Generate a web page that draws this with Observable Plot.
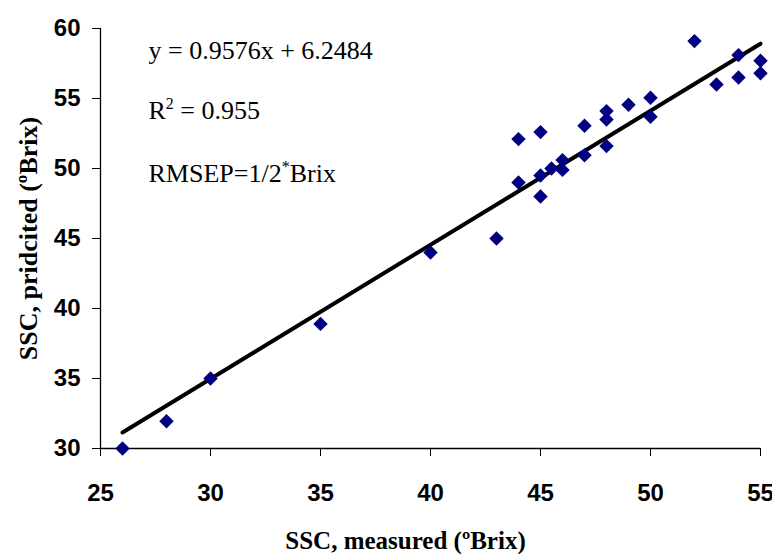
<!DOCTYPE html>
<html><head><meta charset="utf-8">
<script src="https://cdn.jsdelivr.net/npm/d3@7"></script>
<script src="https://cdn.jsdelivr.net/npm/@observablehq/plot@0.6"></script>
<style>
html,body{margin:0;padding:0;background:#fff;}
</style>
</head><body><div id="chart"></div>
<script>
// Data
const measured  = [26, 28, 30, 35, 40, 43, 44, 44, 45, 45, 45, 45.5, 46, 46, 47, 47, 48, 48, 48, 49, 50, 50, 52, 53, 54, 54, 55, 55];
const predicted = [30.0, 31.95, 35.0, 38.9, 44.0, 45.0, 49.0, 52.1, 48.0, 49.5, 52.6, 50.0, 50.6, 49.9, 50.95, 53.05, 51.6, 53.5, 54.1, 54.55, 53.7, 55.05, 59.1, 56.0, 56.5, 58.1, 56.8, 57.7];
const fitSlope = 0.9576;
const fitIntercept = 6.2484;
const fitRange = [26, 55];
const xTicks = [25, 30, 35, 40, 45, 50, 55];
const yTicks = [30, 35, 40, 45, 50, 55, 60];
const xTitle = "SSC, measured (ºBrix)";
const yTitle = "SSC, pridcited (ºBrix)";
const annotations = ["y = 0.9576x + 6.2484", "R^2 = 0.955", "RMSEP=1/2^*Brix"];

const points = measured.map((m, i) => ({m, p: predicted[i]}));
const fit = fitRange.map(x => ({x, y: fitSlope * x + fitIntercept}));

const serif = "'Liberation Serif', 'Times New Roman', Times, serif";
const annotDy = [30, 90, 153];

const chart = Plot.plot({
  width: 772, height: 554,
  marginLeft: 100, marginRight: 12, marginTop: 28, marginBottom: 106,
  style: {fontFamily: "'Liberation Sans', Arial, sans-serif", fontSize: "24px", fontWeight: "bold", color: "#000", background: "#fff", overflow: "visible"},
  x: {domain: [25, 55], ticks: xTicks, tickSize: 8, tickPadding: 27, label: null, tickFormat: d => String(d)},
  y: {domain: [30, 60], ticks: yTicks, tickSize: 8, tickPadding: 12, label: null, tickFormat: d => String(d)},
  marks: [
    Plot.ruleX([25], {stroke: "#000", strokeWidth: 1.3}),
    Plot.ruleY([30], {stroke: "#000", strokeWidth: 1.3}),
    Plot.line(fit, {x: "x", y: "y", stroke: "#000", strokeWidth: 4}),
    Plot.dot(points, {x: "m", y: "p", symbol: "diamond2", r: 6.5, fill: "#000080", stroke: "none"}),
    Plot.text([xTitle], {text: d => d, frameAnchor: "bottom", lineAnchor: "bottom", textAnchor: "middle", dx: -25, dy: 100, fontFamily: serif, fontWeight: "bold", fontSize: 25}),
    Plot.text([yTitle], {text: d => d, frameAnchor: "left", lineAnchor: "bottom", textAnchor: "middle", rotate: -90, dx: -64, fontFamily: serif, fontWeight: "bold", fontSize: 26}),
    ...annotations.map((a, i) => Plot.text([a], {text: d => d, frameAnchor: "top-left", lineAnchor: "bottom", textAnchor: "start", dx: 48, dy: annotDy[i], fontFamily: serif, fontWeight: "normal", fontSize: 26, className: "annot"}))
  ]
});
document.getElementById("chart").appendChild(chart);

// render "^x" as superscript
d3.select(chart).selectAll("text").each(function() {
  const t = this.textContent;
  if (!t.includes("^")) return;
  const el = d3.select(this);
  el.text(null);
  const parts = t.split("^");
  el.append("tspan").text(parts[0]);
  for (let k = 1; k < parts.length; k++) {
    el.append("tspan").attr("font-size", 16).attr("dy", -10).text(parts[k][0]);
    el.append("tspan").attr("dy", 10).text(parts[k].slice(1));
  }
});
</script>
</body></html>
